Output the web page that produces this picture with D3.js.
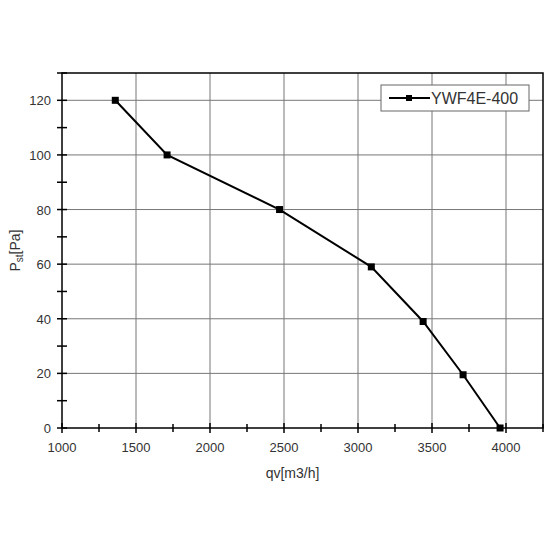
<!DOCTYPE html><html><head><script src="https://cdn.jsdelivr.net/npm/d3@7"></script>
<style>body{margin:0;background:#fff}</style></head><body><svg id="c" width="550" height="550"></svg>
<script>
const flow=[1360,1710,2470,3090,3440,3710,3960];
const pressure=[120,100,80,59,39,19.5,0];
const xTicks=[1000,1500,2000,2500,3000,3500,4000];
const yTicks=[0,20,40,60,80,100,120];
const seriesName="YWF4E-400";
const svg=d3.select("#c");
const L=62,R=543,T=73,B=428;
const x=d3.scaleLinear().domain([1000,4250]).range([L,R]);
const y=d3.scaleLinear().domain([0,130]).range([B,T]);
const g=svg.append("g");
g.selectAll(".vg").data(xTicks.slice(1)).enter().append("line").attr("x1",d=>x(d)).attr("x2",d=>x(d)).attr("y1",T).attr("y2",B).attr("stroke","#777").attr("stroke-width",1);
g.selectAll(".hg").data(yTicks.slice(1)).enter().append("line").attr("y1",d=>y(d)).attr("y2",d=>y(d)).attr("x1",L).attr("x2",R).attr("stroke","#777").attr("stroke-width",1);
g.append("rect").attr("x",L).attr("y",T).attr("width",R-L).attr("height",B-T).attr("fill","none").attr("stroke","#000").attr("stroke-width",1.5);
// minor/major ticks crossing axes
const xt=d3.range(1000,4251,250), yt=d3.range(0,131,10);
g.selectAll(".xt").data(xt).enter().append("line").attr("x1",d=>x(d)).attr("x2",d=>x(d)).attr("y1",d=>d%500?B-4:B-5).attr("y2",d=>d%500?B+4:B+5).attr("stroke","#000").attr("stroke-width",1.5);
g.selectAll(".yt").data(yt).enter().append("line").attr("y1",d=>y(d)).attr("y2",d=>y(d)).attr("x1",d=>L-5).attr("x2",d=>L+5).attr("stroke","#000").attr("stroke-width",1.5);
g.selectAll(".xl").data(xTicks).enter().append("text").attr("x",d=>x(d)).attr("y",B+24).attr("text-anchor","middle").attr("font-family","Liberation Sans").attr("font-size",13).attr("fill","#333").text(d=>d);
g.selectAll(".yl").data(yTicks).enter().append("text").attr("x",L-11).attr("y",d=>y(d)+5).attr("text-anchor","end").attr("font-family","Liberation Sans").attr("font-size",13).attr("fill","#333").text(d=>d);
svg.append("text").attr("x",(L+R)/2-10).attr("y",478).attr("text-anchor","middle").attr("font-family","Liberation Sans").attr("font-size",14).attr("fill","#333").text("qv[m3/h]");
const yl=svg.append("text").attr("transform",`translate(20,${(T+B)/2}) rotate(-90)`).attr("text-anchor","middle").attr("font-family","Liberation Sans").attr("font-size",14).attr("fill","#333");
yl.append("tspan").text("P");yl.append("tspan").attr("font-size",10).attr("dy",3).text("st");yl.append("tspan").attr("dy",-3).text("[Pa]");
const pts=flow.map((f,i)=>[f,pressure[i]]);
g.append("path").attr("d",d3.line().x(d=>x(d[0])).y(d=>y(d[1]))(pts)).attr("fill","none").attr("stroke","#000").attr("stroke-width",2);
g.selectAll(".pt").data(pts).enter().append("rect").attr("x",d=>x(d[0])-3.5).attr("y",d=>y(d[1])-3.5).attr("width",7).attr("height",7).attr("fill","#000");
const lg=svg.append("g");
lg.append("rect").attr("x",381).attr("y",85).attr("width",148).attr("height",26).attr("fill","#fff").attr("stroke","#666");
lg.append("line").attr("x1",389).attr("x2",430).attr("y1",98).attr("y2",98).attr("stroke","#000").attr("stroke-width",2);
lg.append("rect").attr("x",406).attr("y",95).attr("width",6).attr("height",6).attr("fill","#000");
lg.append("text").attr("x",431).attr("y",104).attr("font-family","Liberation Sans").attr("font-size",16).attr("fill","#333").text(seriesName);
</script></body></html>
